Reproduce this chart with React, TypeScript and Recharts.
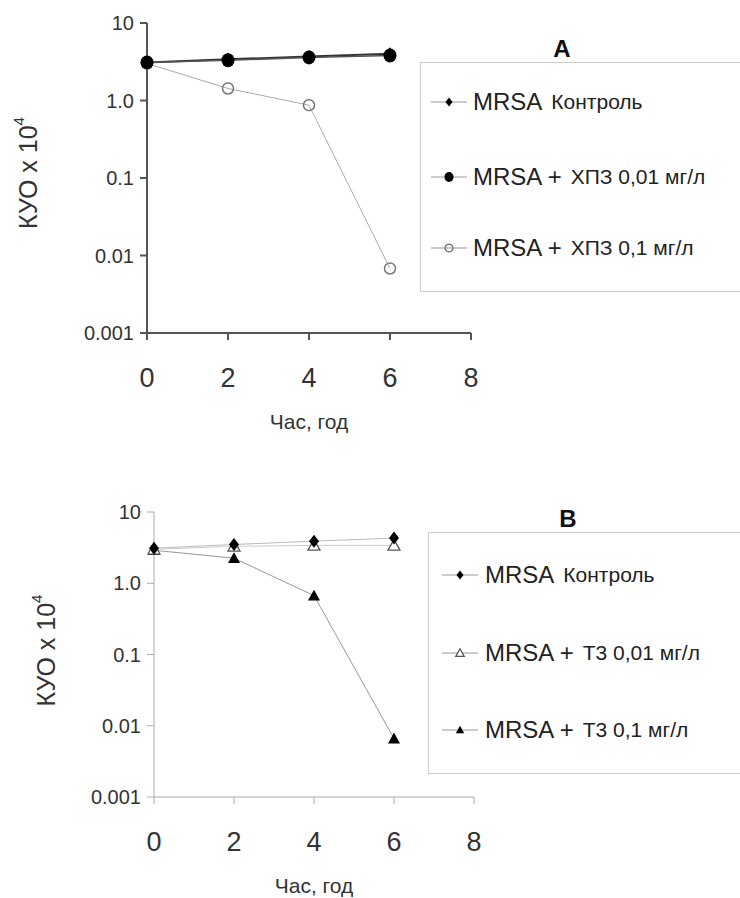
import React from "react";
import { LineChart, Line, XAxis, YAxis } from "recharts";

const hours = [0, 2, 4, 6];
const xTicks = [0, 2, 4, 6, 8];
const yTicks = [0.001, 0.01, 0.1, 1, 10];
const yTickLabels = ["0.001", "0.01", "0.1", "1.0", "10"];

// panel A: ХПЗ
const controlA = [3.1, 3.4, 3.7, 4.0];
const hpzLow = [3.1, 3.3, 3.6, 3.8];
const hpzHigh = [3.0, 1.43, 0.87, 0.0068];

// panel B: Т3
const controlB = [3.1, 3.5, 3.9, 4.3];
const t3Low = [3.0, 3.3, 3.4, 3.4];
const t3High = [2.9, 2.25, 0.67, 0.0066];

const legendA = [
  { head: "MRSA", tail: "Контроль", kind: "diamond" },
  { head: "MRSA +", tail: "ХПЗ 0,01 мг/л", kind: "circle" },
  { head: "MRSA +", tail: "ХПЗ 0,1 мг/л", kind: "ring" },
];
const legendB = [
  { head: "MRSA", tail: "Контроль", kind: "diamond" },
  { head: "MRSA +", tail: "Т3 0,01 мг/л", kind: "openTri" },
  { head: "MRSA +", tail: "Т3 0,1 мг/л", kind: "tri" },
];

const FONT = "'Liberation Sans', Arial, sans-serif";

const dataA = hours.map((h, i) => ({ h, control: controlA[i], low: hpzLow[i], high: hpzHigh[i] }));
const dataB = hours.map((h, i) => ({ h, control: controlB[i], low: t3Low[i], high: t3High[i] }));

function Marker({ kind, cx, cy, s = 1 }: { kind: string; cx: number; cy: number; s?: number }) {
  if (kind === "diamond") {
    const w = 5 * s, hh = 6.5 * s;
    return <polygon points={`${cx},${cy - hh} ${cx + w},${cy} ${cx},${cy + hh} ${cx - w},${cy}`} fill="#000" />;
  }
  if (kind === "circle") return <ellipse cx={cx} cy={cy} rx={6.5 * s} ry={7 * s} fill="#000" />;
  if (kind === "ring") return <circle cx={cx} cy={cy} r={5.5 * s} fill="none" stroke="#777" strokeWidth={1.5} />;
  const w = 6 * s, hh = 6 * s;
  const pts = `${cx},${cy - hh} ${cx + w},${cy + hh * 0.8} ${cx - w},${cy + hh * 0.8}`;
  if (kind === "openTri") return <polygon points={pts} fill="#fff" stroke="#555" strokeWidth={1.3} />;
  return <polygon points={pts} fill="#000" />;
}

const dotOf = (kind: string) => (p: any) => <Marker key={`${kind}-${p.index}`} kind={kind} cx={p.cx} cy={p.cy} />;

const XTick = ({ x, y, payload }: any) => (
  <text x={x} y={y + 45} textAnchor="middle" fontSize={27} fontFamily={FONT} fill="#333">
    {payload.value}
  </text>
);

const YTick = ({ x, y, payload }: any) => (
  <text x={x - 4} y={y + 7} textAnchor="end" fontSize={20} fontFamily={FONT} fill="#333">
    {yTickLabels[yTicks.indexOf(payload.value)]}
  </text>
);

const XTitle = ({ viewBox }: any) => (
  <text x={viewBox.x + viewBox.width / 2} y={viewBox.y + 96} textAnchor="middle" fontSize={21} fontFamily={FONT} fill="#333">
    Час, год
  </text>
);

const YTitle = ({ viewBox, cx, shift }: any) => {
  const cy = viewBox.y + viewBox.height / 2 + shift;
  return (
    <text x={cx} y={cy} transform={`rotate(-90, ${cx}, ${cy})`} textAnchor="middle" dominantBaseline="central" fontSize={25} fontFamily={FONT} fill="#333">
      <tspan>КУО x 10</tspan>
      <tspan dy={-10} fontSize={15}>4</tspan>
    </text>
  );
};

function Legend({ items, title, left, top, height, titleX, titleY, rowYs, markerX, textX }: any) {
  return (
    <>
      <div style={{ position: "absolute", left: titleX - 20, top: titleY - 15, width: 40, textAlign: "center", fontFamily: FONT, fontWeight: "bold", fontSize: 24, lineHeight: "30px", color: "#111" }}>
        {title}
      </div>
      <div style={{ position: "absolute", left, top, width: 400, height, border: "1.5px solid #ccc", boxSizing: "border-box" }} />
      {items.map((it: any, i: number) => (
        <div key={i} style={{ position: "absolute", left: markerX - 20, top: rowYs[i] - 15, height: 30, display: "flex", alignItems: "center", whiteSpace: "nowrap", fontFamily: FONT, color: "#222" }}>
          <svg width={40} height={30} style={{ flex: "none" }}>
            <line x1={2} y1={15} x2={38} y2={15} stroke="#999" strokeWidth={1} />
            <Marker kind={it.kind} cx={20} cy={15} s={0.7} />
          </svg>
          <span style={{ marginLeft: textX - markerX - 20, fontSize: 24 }}>{it.head}</span>
          <span style={{ marginLeft: 9, fontSize: 21 }}>{it.tail}</span>
        </div>
      ))}
    </>
  );
}

function Panel({ top, height, margin, data, series, axisColor, axisWidth, yTitleX, yTitleShift }: any) {
  return (
    <div style={{ position: "absolute", left: 0, top }}>
      <LineChart width={740} height={height} data={data} margin={margin}>
        <XAxis
          dataKey="h"
          type="number"
          domain={[0, 8]}
          ticks={xTicks}
          height={40}
          tickSize={7}
          stroke={axisColor}
          strokeWidth={axisWidth}
          tick={<XTick />}
          label={<XTitle />}
        />
        <YAxis
          type="number"
          scale="log"
          domain={[0.001, 10]}
          allowDataOverflow
          ticks={yTicks}
          width={60}
          tickSize={7}
          stroke={axisColor}
          strokeWidth={axisWidth}
          tick={<YTick />}
          label={<YTitle cx={yTitleX} shift={yTitleShift} />}
        />
        {series.map((s: any) => (
          <Line
            key={s.key}
            type="linear"
            dataKey={s.key}
            stroke={s.stroke}
            strokeWidth={s.width}
            dot={dotOf(s.kind)}
            activeDot={false}
            isAnimationActive={false}
          />
        ))}
      </LineChart>
    </div>
  );
}

export default function App() {
  return (
    <div style={{ position: "absolute", left: 0, top: 0, width: 740, height: 898, overflow: "hidden", background: "#fff" }}>
      <Panel
        top={0}
        height={450}
        margin={{ top: 23, right: 269, bottom: 77, left: 87 }}
        data={dataA}
        axisColor="#555"
        axisWidth={2}
        yTitleX={28}
        yTitleShift={-5}
        series={[
          { key: "high", kind: "ring", stroke: "#aaa", width: 1 },
          { key: "control", kind: "diamond", stroke: "#333", width: 2 },
          { key: "low", kind: "circle", stroke: "#555", width: 1.5 },
        ]}
      />
      <Legend items={legendA} title="A" left={420} top={62} height={230} titleX={562} titleY={49} rowYs={[102, 177, 248]} markerX={449} textX={473} />

      <Panel
        top={460}
        height={438}
        margin={{ top: 52, right: 266, bottom: 61, left: 94 }}
        data={dataB}
        axisColor="#aaa"
        axisWidth={1}
        yTitleX={46}
        yTitleShift={-4}
        series={[
          { key: "high", kind: "tri", stroke: "#999", width: 1 },
          { key: "low", kind: "openTri", stroke: "#ccc", width: 1 },
          { key: "control", kind: "diamond", stroke: "#bbb", width: 1 },
        ]}
      />
      <Legend items={legendB} title="B" left={428} top={532} height={242} titleX={568} titleY={519} rowYs={[575, 653, 730]} markerX={460} textX={485} />
    </div>
  );
}
